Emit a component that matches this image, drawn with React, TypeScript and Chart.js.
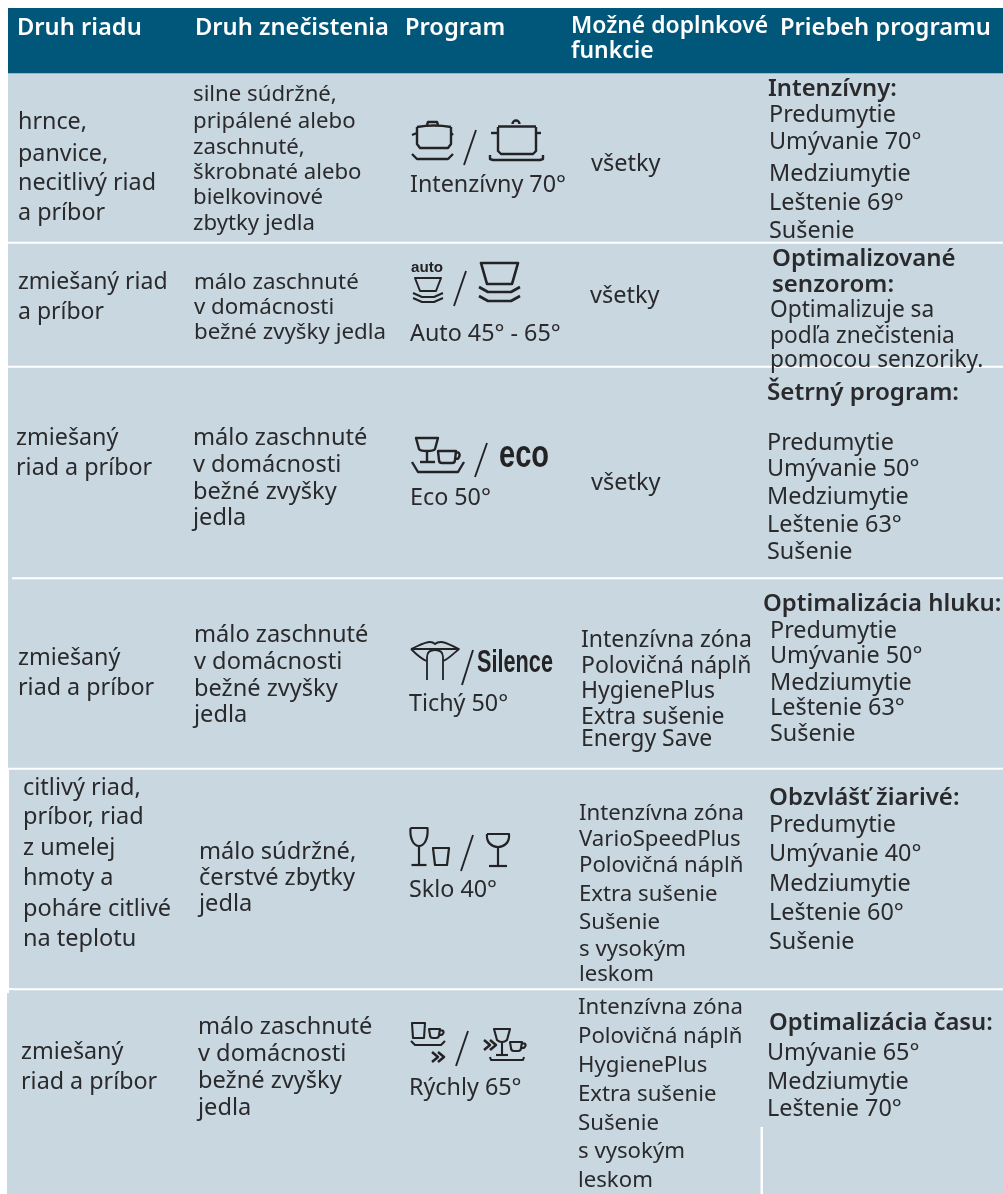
import React, { useEffect, useRef } from "react";
import { Chart, registerables } from "chart.js";

Chart.register(...registerables);

const HEAD = "#00577a";
const BAND = "#c9d7e1";
const INK = "#2a2a2c";
const FONT = '"Noto Sans"';

// Table bands: top and bottom of each row (y value)
const rowNames = ["header", "r1", "r2", "r3", "r4", "r5", "r6"];
const rowSpans: [number, number][] = [[8, 73], [73, 241.5], [244, 365.5], [368, 577], [579.5, 767.5], [770, 988], [990.5, 1194]];

const headerTexts = ["Druh riadu", "Druh znečistenia", "Program", "Možné doplnkové", "funkcie", "Priebeh programu"];
const headerX = [17, 195, 405, 571, 571, 780];
const headerY = [27, 27, 27, 25, 50, 27];
const headerSize = [23.7, 23.7, 23.7, 22.9, 22.9, 23.7];

const dishTypes = [
  ["hrnce,", "panvice,", "necitlivý riad", "a príbor"],
  ["zmiešaný riad", "a príbor"],
  ["zmiešaný", "riad a príbor"],
  ["zmiešaný", "riad a príbor"],
  ["citlivý riad,", "príbor, riad", "z umelej", "hmoty a", "poháre citlivé", "na teplotu"],
  ["zmiešaný", "riad a príbor"],
];
const dishX = [18, 18, 16, 18, 23, 21];
const dishY = [
  [121, 153, 182, 212],
  [281, 311],
  [437, 467],
  [657, 687],
  [787, 816, 847, 877, 908, 938],
  [1051, 1081],
];
const dishSize = [23.3, 23, 23.3, 23.3, 23.5, 23.3];

const soilTypes = [
  ["silne súdržné,", "pripálené alebo", "zaschnuté,", "škrobnaté alebo", "bielkovinové", "zbytky jedla"],
  ["málo zaschnuté", "v domácnosti", "bežné zvyšky jedla"],
  ["málo zaschnuté", "v domácnosti", "bežné zvyšky", "jedla"],
  ["málo zaschnuté", "v domácnosti", "bežné zvyšky", "jedla"],
  ["málo súdržné,", "čerstvé zbytky", "jedla"],
  ["málo zaschnuté", "v domácnosti", "bežné zvyšky", "jedla"],
];
const soilX = [193, 194, 193, 194, 199, 198];
const soilY = [
  [93, 120, 146, 171, 196, 222],
  [281, 306, 331],
  [437, 464, 491, 517],
  [634, 661, 688, 714],
  [851, 877, 903],
  [1026, 1053, 1080, 1107],
];
const soilSize = [22.2, 22.3, 23.6, 23.6, 23.6, 23.6];

const programs = ["Intenzívny 70°", "Auto 45° - 65°", "Eco 50°", "Tichý 50°", "Sklo 40°", "Rýchly 65°"];
const programX = [410, 410, 410, 409, 409, 409];
const programY = [184, 333, 497, 703, 889, 1087];

const extras = [
  ["všetky"],
  ["všetky"],
  ["všetky"],
  ["Intenzívna zóna", "Polovičná náplň", "HygienePlus", "Extra sušenie", "Energy Save"],
  ["Intenzívna zóna", "VarioSpeedPlus", "Polovičná náplň", "Extra sušenie", "Sušenie", "s vysokým", "leskom"],
  ["Intenzívna zóna", "Polovičná náplň", "HygienePlus", "Extra sušenie", "Sušenie", "s vysokým", "leskom"],
];
const extraX = [591, 590, 591, 581, 579, 578];
const extraY = [
  [163],
  [295],
  [482],
  [639, 665, 690, 716, 738],
  [812, 838, 864, 893, 921, 948, 973],
  [1006, 1035, 1064, 1093, 1122, 1150, 1179],
];
const extraSize = [23.5, 23.5, 23.5, 23, 22.2, 22.2];

const courseTitles = [
  ["Intenzívny:"],
  ["Optimalizované", "senzorom:"],
  ["Šetrný program:"],
  ["Optimalizácia hluku:"],
  ["Obzvlášť žiarivé:"],
  ["Optimalizácia času:"],
];
const courseTitleX = [768, 772, 767, 763, 769, 769];
const courseTitleY = [[88], [258, 284], [392], [603], [797], [1022]];
const courseTitleSize = [23.8, 24, 24.2, 23.9, 24, 23.8];

const courseSteps = [
  ["Predumytie", "Umývanie 70°", "Medziumytie", "Leštenie 69°", "Sušenie"],
  ["Optimalizuje sa", "podľa znečistenia", "pomocou senzoriky."],
  ["Predumytie", "Umývanie 50°", "Medziumytie", "Leštenie 63°", "Sušenie"],
  ["Predumytie", "Umývanie 50°", "Medziumytie", "Leštenie 63°", "Sušenie"],
  ["Predumytie", "Umývanie 40°", "Medziumytie", "Leštenie 60°", "Sušenie"],
  ["Umývanie 65°", "Medziumytie", "Leštenie 70°"],
];
const courseStepX = [769, 770, 767, 770, 769, 767];
const courseStepY = [
  [114, 141, 173, 202, 230],
  [309, 335, 359],
  [442, 468, 496, 524, 551],
  [630, 655, 682, 707, 733],
  [824, 853, 883, 912, 941],
  [1052, 1081, 1108],
];
const courseStepSize = [23.4, 22.7, 23.4, 23.4, 23.4, 23.4];

type Ctx = CanvasRenderingContext2D;

function path(c: Ctx, pts: number[][], close = false) {
  c.beginPath();
  pts.forEach((p, i) => (i ? c.lineTo(p[0], p[1]) : c.moveTo(p[0], p[1])));
  if (close) c.closePath();
  c.stroke();
}
function curve(c: Ctx, x0: number, y0: number, cx: number, cy: number, x1: number, y1: number) {
  c.beginPath();
  c.moveTo(x0, y0);
  c.quadraticCurveTo(cx, cy, x1, y1);
  c.stroke();
}
function slash(c: Ctx, x0: number, y0: number, x1: number, y1: number) {
  c.lineWidth = 1.9;
  path(c, [[x0, y0], [x1, y1]]);
}
function trayCurved(c: Ctx, x0: number, x1: number, y: number, d = 5) {
  path(c, [[x0, y], [x0 + d, y + d], [x1 - d, y + d], [x1, y]]);
}
function narrowText(c: Ctx, t: string, x: number, y: number, font: string, width: number) {
  c.save();
  c.font = font;
  const w = c.measureText(t).width;
  c.translate(x, y);
  c.scale(width / w, 1);
  c.fillText(t, 0, 0);
  c.restore();
}
function wine(c: Ctx, x: number, top: number, w: number, bowl: number, stemBottom: number, footW: number) {
  c.beginPath();
  c.moveTo(x - w / 2, top);
  c.lineTo(x + w / 2, top);
  c.bezierCurveTo(x + w / 2 + 1, top + bowl * 0.7, x + w / 4, top + bowl, x, top + bowl);
  c.bezierCurveTo(x - w / 4, top + bowl, x - w / 2 - 1, top + bowl * 0.7, x - w / 2, top);
  c.stroke();
  path(c, [[x, top + bowl], [x, stemBottom]]);
  path(c, [[x - footW / 2, stemBottom], [x + footW / 2, stemBottom]]);
}
function cup(c: Ctx, x: number, y: number, w: number, h: number) {
  c.beginPath();
  c.moveTo(x, y);
  c.lineTo(x + w, y);
  c.lineTo(x + w - 1, y + h - 3);
  c.quadraticCurveTo(x + w - 1, y + h, x + w - 4, y + h);
  c.lineTo(x + 4, y + h);
  c.quadraticCurveTo(x + 1, y + h, x + 1, y + h - 3);
  c.closePath();
  c.stroke();
  c.beginPath();
  c.moveTo(x + w, y + 1.5);
  c.lineTo(x + w + 2.5, y + 1.5);
  c.quadraticCurveTo(x + w + 5, y + h / 3, x + w + 2, y + h * 0.65);
  c.lineTo(x + w - 1, y + h * 0.65);
  c.stroke();
}

function drawIcons(c: Ctx, X: (v: number) => number, Y: (v: number) => number) {
  c.save();
  c.strokeStyle = "#232325";
  c.fillStyle = "#232325";
  c.lineCap = "butt";
  c.lineJoin = "round";

  // Intensive pots
  c.lineWidth = 2.4;
  path(c, [[X(417), Y(127)], [X(417), Y(144)], [X(420), Y(148)], [X(448), Y(148)], [X(451), Y(144)], [X(451), Y(127)]]);
  curve(c, X(417), Y(127), X(434), Y(124), X(451), Y(127));
  path(c, [[X(412), Y(135)], [X(417), Y(133)]]);
  path(c, [[X(451), Y(133)], [X(453), Y(135)]]);
  path(c, [[X(427), Y(125)], [X(428), Y(122)], [X(437), Y(122)], [X(438), Y(125)]]);
  trayCurved(c, X(412), X(453), Y(154), 5);
  slash(c, X(476), Y(130), X(464), Y(165));
  c.lineWidth = 2.4;
  path(c, [[X(498), Y(127)], [X(498), Y(151)], [X(501), Y(154)], [X(533), Y(154)], [X(536), Y(151)], [X(536), Y(127)]]);
  path(c, [[X(491), Y(133)], [X(498), Y(133)]]);
  path(c, [[X(536), Y(133)], [X(541), Y(133)]]);
  path(c, [[X(498), Y(126.5)], [X(536), Y(126.5)]]);
  c.beginPath();
  c.arc(X(516), Y(124), 3.5, Math.PI, 0);
  c.stroke();
  path(c, [[X(490), Y(155)], [X(490), Y(159)], [X(493), Y(160)], [X(540), Y(160)], [X(543), Y(159)], [X(543), Y(155)]]);

  // Auto
  c.textBaseline = "middle";
  c.textAlign = "left";
  narrowText(c, "auto", X(411), Y(268), `bold 14px "Liberation Sans"`, 32);
  c.lineWidth = 2;
  path(c, [[X(415), Y(278)], [X(441), Y(278)], [X(436), Y(291)], [X(420), Y(291)]], true);
  path(c, [[X(413), Y(293)], [X(422), Y(297)], [X(434), Y(297)], [X(443), Y(293)]]);
  path(c, [[X(413), Y(298)], [X(422), Y(302)], [X(434), Y(302)], [X(443), Y(298)]]);
  slash(c, X(466), Y(271), X(454), Y(306));
  c.lineWidth = 2.7;
  path(c, [[X(481), Y(263)], [X(518), Y(263)], [X(512), Y(284)], [X(487), Y(284)]], true);
  path(c, [[X(479), Y(287)], [X(488), Y(292)], [X(511), Y(292)], [X(520), Y(287)]]);
  path(c, [[X(479), Y(296)], [X(488), Y(301)], [X(511), Y(301)], [X(520), Y(296)]]);

  // Eco
  c.lineWidth = 2.4;
  c.beginPath();
  c.moveTo(X(416), Y(438));
  c.lineTo(X(438), Y(438));
  c.lineTo(X(435), Y(449));
  c.quadraticCurveTo(X(434), Y(451), X(427), Y(451));
  c.quadraticCurveTo(X(420), Y(451), X(419), Y(449));
  c.closePath();
  c.stroke();
  path(c, [[X(427), Y(451)], [X(427), Y(462)]]);
  path(c, [[X(420), Y(462)], [X(435), Y(462)]]);
  cup(c, X(438), Y(451), 18, 12);
  path(c, [[X(412), Y(462)], [X(418), Y(472)], [X(458), Y(472)], [X(464), Y(462)]]);
  slash(c, X(487), Y(443), X(475), Y(477));
  narrowText(c, "eco", X(499), Y(457), `bold 38px "Liberation Sans"`, 50);

  // Silence
  c.lineWidth = 1.8;
  c.beginPath();
  c.moveTo(X(411), Y(649));
  c.bezierCurveTo(X(420), Y(645), X(425), Y(642), X(430), Y(642));
  c.quadraticCurveTo(X(433), Y(642), X(435), Y(644));
  c.quadraticCurveTo(X(437), Y(642), X(441), Y(642));
  c.bezierCurveTo(X(446), Y(642), X(452), Y(646), X(459), Y(649));
  c.bezierCurveTo(X(452), Y(655), X(447), Y(660), X(443), Y(661));
  c.moveTo(X(411), Y(649));
  c.bezierCurveTo(X(417), Y(655), X(423), Y(660), X(427), Y(661));
  c.moveTo(X(411), Y(649));
  c.lineTo(X(459), Y(649));
  c.stroke();
  c.beginPath();
  c.moveTo(X(427), Y(680));
  c.lineTo(X(427), Y(657));
  c.quadraticCurveTo(X(427), Y(650), X(435), Y(650));
  c.quadraticCurveTo(X(443), Y(650), X(443), Y(657));
  c.lineTo(X(443), Y(680));
  c.stroke();
  slash(c, X(473), Y(650), X(462), Y(685));
  narrowText(c, "Silence", X(477), Y(663), `bold 32px "Liberation Sans"`, 76);

  // Glass
  c.lineWidth = 2.2;
  wine(c, X(419), Y(828), 17, 18, Y(865), 15);
  path(c, [[X(433), Y(848)], [X(449), Y(848)], [X(447), Y(865)], [X(435), Y(865)]], true);
  slash(c, X(473), Y(835), X(461), Y(871));
  c.lineWidth = 2.2;
  wine(c, X(498), Y(834), 22, 13, Y(866), 18);

  // Quick
  c.lineWidth = 2.1;
  path(c, [[X(412), Y(1023)], [X(425), Y(1023)], [X(424), Y(1038)], [X(413), Y(1038)]], true);
  cup(c, X(429), Y(1029), 11, 9);
  path(c, [[X(411), Y(1041)], [X(415), Y(1045)], [X(441), Y(1045)], [X(445), Y(1041)]]);
  c.lineWidth = 2.5;
  path(c, [[X(432), Y(1052)], [X(438), Y(1057)], [X(432), Y(1062)]]);
  path(c, [[X(438), Y(1052)], [X(444), Y(1057)], [X(438), Y(1062)]]);
  slash(c, X(468), Y(1031), X(456), Y(1066));
  c.lineWidth = 2.5;
  path(c, [[X(484), Y(1040)], [X(490), Y(1045)], [X(484), Y(1050)]]);
  path(c, [[X(490), Y(1040)], [X(496), Y(1045)], [X(490), Y(1050)]]);
  c.lineWidth = 2.1;
  c.beginPath();
  c.moveTo(X(494), Y(1029));
  c.lineTo(X(510), Y(1029));
  c.lineTo(X(507), Y(1040));
  c.quadraticCurveTo(X(505), Y(1042), X(502), Y(1042));
  c.quadraticCurveTo(X(499), Y(1042), X(497), Y(1040));
  c.closePath();
  c.stroke();
  path(c, [[X(502), Y(1042)], [X(502), Y(1055)]]);
  path(c, [[X(496), Y(1055)], [X(508), Y(1055)]]);
  cup(c, X(510), Y(1042), 12, 9);
  path(c, [[X(490), Y(1057)], [X(491), Y(1060)], [X(523), Y(1060)], [X(524), Y(1057)]]);
  c.restore();
}

const TEXT_SHIFT = 1.5;

const tablePlugin = {
  id: "tableText",
  afterDatasetsDraw(chart: any) {
    const c: Ctx = chart.ctx;
    const sx = chart.scales.xt;
    const sy = chart.scales.y;
    const X = (v: number) => sx.getPixelForValue(v);
    const Y = (v: number) => sy.getPixelForValue(v);
    const T = (v: number) => sy.getPixelForValue(v + TEXT_SHIFT);

    // uneven left edges and the stray rule of the scanned page
    c.save();
    c.fillStyle = BAND;
    c.fillRect(X(8), Y(576), 4, 5);
    c.fillRect(X(9), Y(988), 4, 3);
    c.fillStyle = "#ffffff";
    c.fillRect(X(7), Y(8), 1, Y(993) - Y(8));
    c.fillRect(X(8), Y(770), 1, Y(993) - Y(770));
    c.fillRect(X(9), Y(988), 4, 2);
    c.fillRect(X(760.5), Y(1127), 2.5, Y(1194) - Y(1127));
    c.restore();

    c.save();
    c.textBaseline = "middle";
    c.textAlign = "left";
    c.fillStyle = "#ffffff";
    headerTexts.forEach((t, i) => {
      c.font = `600 ${headerSize[i]}px ${FONT}`;
      c.fillText(t, X(headerX[i]), T(headerY[i]) - 0.5);
    });

    const block = (rows: string[][], xs: number[], ys: number[][], sizes: number[], weight = "") => {
      rows.forEach((lines, r) => {
        c.font = `${weight} ${sizes[r]}px ${FONT}`;
        lines.forEach((t, i) => c.fillText(t, X(xs[r]), T(ys[r][i])));
      });
    };
    c.fillStyle = INK;
    block(dishTypes, dishX, dishY, dishSize);
    block(soilTypes, soilX, soilY, soilSize);
    block(extras, extraX, extraY, extraSize);
    block(courseSteps, courseStepX, courseStepY, courseStepSize);
    block(courseTitles, courseTitleX, courseTitleY, courseTitleSize, "600");
    c.font = `23.3px ${FONT}`;
    programs.forEach((t, i) => c.fillText(t, X(programX[i]), T(programY[i])));
    c.restore();

    drawIcons(c, X, Y);
  },
};

export default function App() {
  const ref = useRef<HTMLCanvasElement>(null);
  useEffect(() => {
    document.body.style.margin = "0";
    document.body.style.background = "#ffffff";
    const chart = new Chart(ref.current!, {
      type: "bar",
      data: {
        labels: ["table"],
        datasets: rowNames.map((name, i) => ({
          label: name,
          data: [rowSpans[i]],
          backgroundColor: i === 0 ? HEAD : BAND,
          borderWidth: 0,
          grouped: false,
          barPercentage: 1,
          categoryPercentage: 1,
        })),
      } as any,
      options: {
        responsive: false,
        animation: false,
        layout: { padding: { left: 7, top: 8, right: 0, bottom: 0 } },
        plugins: { legend: { display: false }, tooltip: { enabled: false }, title: { display: false } },
        scales: {
          x: { display: false, grid: { display: false } },
          xt: { type: "linear", axis: "x", display: false, min: 7, max: 1003, offset: false },
          y: { display: false, reverse: true, min: 8, max: 1194, grid: { display: false } },
        },
      } as any,
      plugins: [tablePlugin],
    });
    return () => chart.destroy();
  }, []);
  return <canvas ref={ref} width={1003} height={1194} style={{ display: "block" }} />;
}
